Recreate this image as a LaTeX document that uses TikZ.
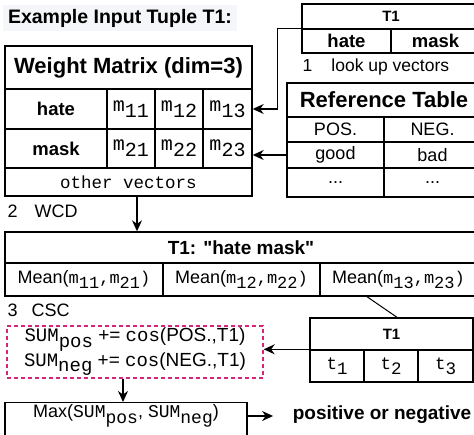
\documentclass[tikz,border=0pt]{standalone}
\usepackage{fontspec}
\setmainfont{Liberation Sans}[Ligatures=TeXOff]
\setmonofont{Liberation Mono}
\usetikzlibrary{arrows.meta,calc}
\definecolor{dpink}{HTML}{D6247A}
\definecolor{titlebg}{HTML}{F4F6F9}
\newcommand{\fs}[1]{\fontsize{#1}{#1}\selectfont}
\newcommand{\lowr}[1]{\raisebox{-0.3em}{#1}}
\newcommand{\mt}[1]{{\ttfamily\fs{17}#1}}
\newcommand{\SUMx}[1]{\texttt{SUM\lowr{#1}}}
\begin{document}
\begin{tikzpicture}[x=1pt,y=-1pt,line width=1.4pt,
  cell/.style={draw,inner sep=0pt,line width=1.4pt},
  arr/.style={-{Stealth[length=11pt,width=10pt]},line width=1.4pt},
  ttl/.style={font=\bfseries\fs{22}},
  bl/.style={font=\bfseries\fs{18.5}},
  sbl/.style={font=\bfseries\fs{15}},
  rl/.style={font=\fs{18}},
  wm/.style={font=\ttfamily\fs{20}},
  ml/.style={font=\ttfamily\fs{17.5}},
  note/.style={font=\fs{17.5},anchor=west,inner sep=0pt},
]
\useasboundingbox (0,0) rectangle (474,434);
\clip (0,0) rectangle (474,434);

% title
\node[fill=titlebg,inner sep=0pt,minimum width=234pt,minimum height=26pt,font=\bfseries\fs{19.5}] (title) at (120,18) {Example Input Tuple T1:};

% weight matrix
\node[cell,ttl,minimum width=247pt,minimum height=43pt] (wmT) at (128.5,67.5) {Weight Matrix (dim=3)};
\node[cell,bl,minimum width=102pt,minimum height=40pt] (hateL) at (56,109) {hate};
\node[cell,wm,minimum width=48pt,minimum height=40pt] (m11) at (131,109) {m\lowr{11}};
\node[cell,wm,minimum width=48pt,minimum height=40pt] (m12) at (179,109) {m\lowr{12}};
\node[cell,wm,minimum width=49pt,minimum height=40pt] (m13) at (227.5,109) {m\lowr{13}};
\node[cell,bl,minimum width=102pt,minimum height=39pt] (maskL) at (56,148.5) {mask};
\node[cell,wm,minimum width=48pt,minimum height=39pt] (m21) at (131,148.5) {m\lowr{21}};
\node[cell,wm,minimum width=48pt,minimum height=39pt] (m22) at (179,148.5) {m\lowr{22}};
\node[cell,wm,minimum width=49pt,minimum height=39pt] (m23) at (227.5,148.5) {m\lowr{23}};
\node[cell,ml,minimum width=247pt,minimum height=28pt] (other) at (128.5,182) {other vectors};

% top T1
\node[cell,sbl,minimum width=178pt,minimum height=25pt] (tT) at (391,16.5) {T1};
\node[cell,bl,minimum width=89pt,minimum height=24pt] (tH) at (346.5,41) {hate};
\node[cell,bl,minimum width=89pt,minimum height=24pt] (tM) at (435.5,41) {mask};
\node[note] (n1) at (302,67) {1\hspace{19pt}look up vectors};

% reference table
\node[cell,ttl,minimum width=194pt,minimum height=34pt] (rT) at (384,100) {Reference Table};
\node[cell,rl,minimum width=97pt,minimum height=25pt] (rP) at (335.5,129.5) {POS.};
\node[cell,rl,minimum width=97pt,minimum height=25pt] (rN) at (432.5,129.5) {NEG.};
\node[cell,rl,minimum width=97pt,minimum height=26pt] (rG) at (335.5,155) {good};
\node[cell,rl,minimum width=97pt,minimum height=26pt] (rB) at (432.5,155) {bad};
\node[cell,rl,minimum width=97pt,minimum height=29pt] (rD1) at (335.5,182.5) {...};
\node[cell,rl,minimum width=97pt,minimum height=29pt] (rD2) at (432.5,182.5) {...};

\draw[arr] (tH.north west) -- ++(-24,0) |- (m13.east);
\draw[arr] (rG.west) -- (rG.west -| m23.east);

% WCD
\node[note,font=\fs{18}] (n2) at (7,211) {2\hspace{17pt}WCD};
\node[cell,font=\bfseries\fs{19},minimum width=472pt,minimum height=31pt] (mT) at (241,247.5) {T1: "hate mask"};
\node[cell,rl,minimum width=158pt,minimum height=33pt] (mA) at (84,279.5) {Mean(\mt{m\lowr{11},m\lowr{21})}};
\node[cell,rl,minimum width=157pt,minimum height=33pt] (mB) at (241.5,279.5) {Mean(\mt{m\lowr{12},m\lowr{22})}};
\node[cell,rl,minimum width=157pt,minimum height=33pt] (mC) at (398.5,279.5) {Mean(\mt{m\lowr{13},m\lowr{23})}};
\coordinate (a1) at ($(other.south)+(8.5,0)$);
\draw[arr] (a1) -- (a1 |- mT.north);

% CSC
\node[note,font=\fs{18}] (n3) at (7,310) {3\hspace{14pt}CSC};
\node[cell,sbl,minimum width=163pt,minimum height=32pt] (bT) at (391.5,334) {T1};
\node[cell,ml,minimum width=54pt,minimum height=32pt] (b1) at (337,366) {t\lowr{1}};
\node[cell,ml,minimum width=54pt,minimum height=32pt] (b2) at (391,366) {t\lowr{2}};
\node[cell,ml,minimum width=55pt,minimum height=32pt] (b3) at (445.5,366) {t\lowr{3}};
\coordinate (d1) at ($(mC.south)+(-31.5,0)$);
\coordinate (d2) at ($(bT.north)+(5.5,0)$);
\draw[line width=1pt] (d1) -- (d2);

\node[draw=dpink,dash pattern=on 4pt off 3pt,line width=1.4pt,inner sep=0pt,minimum width=256pt,minimum height=52pt] (dsh) at (135,352) {};
\node[font=\fontsize{19}{23}\selectfont,align=center,inner sep=0pt] (sums) at (135,352)
  {\SUMx{pos} += \texttt{cos}(POS.,T1)\\\SUMx{neg} += \texttt{cos}(NEG.,T1)};
\draw[arr] (b1.north west) -- (b1.north west -| dsh.east);

\node[cell,minimum width=242pt,minimum height=40pt,anchor=north] (mx) at (126,402) {};
\node[rl,inner sep=0pt] (mxt) at (126,416) {Max(\SUMx{pos}, \SUMx{neg})};
\coordinate (a3) at ($(dsh.south)+(-12,0)$);
\draw[arr] (a3) -- (a3 |- mx.north);
\node[font=\bfseries\fs{19},inner sep=0pt] (pn) at (382,415) {positive or negative};
\draw[arr,shorten >=19pt] (mxt -| mx.east) -- (mxt -| pn.west);
\end{tikzpicture}
\end{document}
